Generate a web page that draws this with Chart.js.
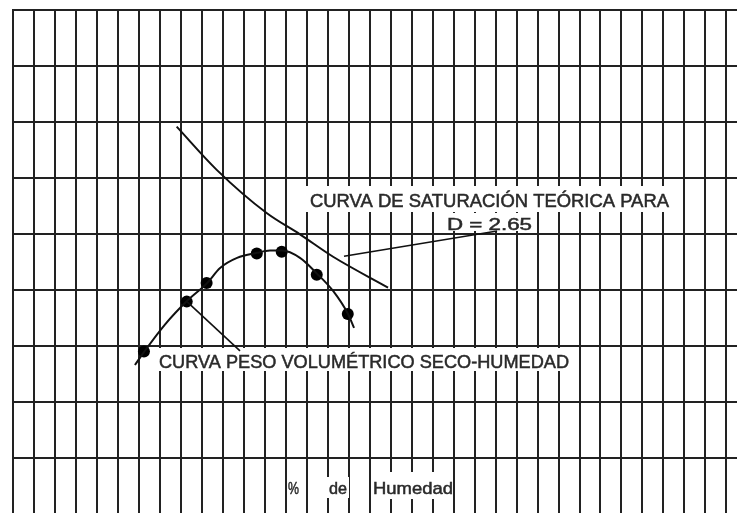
<!DOCTYPE html>
<html>
<head>
<meta charset="utf-8">
<script src="https://cdn.jsdelivr.net/npm/chart.js@4/dist/chart.umd.min.js"></script>
<style>
  html, body { margin: 0; padding: 0; background: #fff; overflow: hidden; }
  #wrap { width: 737px; height: 513px; }
  canvas { display: block; }
</style>
</head>
<body>
<div id="wrap"><canvas id="c" width="737" height="513"></canvas></div>
<script>
// ---- Data (grid units: x = % humedad, y = peso volumétrico seco) ----
const pointsX = [6.23, 8.27, 9.22, 11.61, 12.80, 14.47, 15.95];
const pointsY = [2.90, 3.79, 4.12, 4.65, 4.68, 4.27, 3.57];

const curveX = [5.80, 6.23, 7.23, 8.28, 9.24, 9.86, 10.67, 11.62, 12.24, 12.81, 13.67, 14.48, 15.25, 15.96, 16.25];
const curveY = [2.66, 2.89, 3.38, 3.80, 4.12, 4.39, 4.57, 4.66, 4.70, 4.70, 4.57, 4.29, 3.98, 3.57, 3.32];

const satX = [7.79, 9.70, 12.08, 13.67, 15.25, 17.87];
const satY = [6.91, 6.14, 5.37, 4.99, 4.59, 4.04];

const leaderSatX = [15.77, 23.07];
const leaderSatY = [4.60, 5.05];
const leaderCurveX = [8.28, 10.81];
const leaderCurveY = [3.79, 2.91];

const xMin = 0, xMax = 34.51, yMin = 0.02, yMax = 9;

const labelSat1 = 'CURVA DE SATURACIÓN TEÓRICA PARA';
const labelSat2 = 'D = 2.65';
const labelCurve = 'CURVA PESO VOLUMÉTRICO SECO-HUMEDAD';
const axisWords = ['%', 'de', 'Humedad'];

const zip = (xs, ys) => xs.map((x, i) => ({x, y: ys[i]}));

const FONT = '"Liberation Sans", Arial, sans-serif';
const TEXT_COLOR = '#2a2a2a';

function boxes(ctx) {
  ctx.save();
  ctx.fillStyle = '#fff';
  const r = [
    [305, 186, 368, 26],   // saturation line 1
    [443, 213, 93, 18],    // D = 2.65
    [155, 348, 418, 23],   // curva peso
    [287, 478, 13, 20],    // %
    [326, 477, 23, 21],    // de
    [371, 472, 82, 27]     // Humedad
  ];
  r.forEach(b => ctx.fillRect(b[0], b[1], b[2], b[3]));
  ctx.restore();
}

function drawText(ctx, text, left, right, baseline, size) {
  ctx.save();
  ctx.font = size + 'px ' + FONT;
  ctx.fillStyle = TEXT_COLOR;
  ctx.strokeStyle = TEXT_COLOR;
  ctx.lineWidth = 0.5;
  ctx.textBaseline = 'alphabetic';
  ctx.textAlign = 'left';
  const w = ctx.measureText(text).width;
  ctx.translate(left, baseline);
  ctx.scale((right - left) / w, 1);
  ctx.fillText(text, 0, 0);
  ctx.strokeText(text, 0, 0);
  ctx.restore();
}

const annotPlugin = {
  id: 'annot',
  beforeDatasetsDraw(chart) { boxes(chart.ctx); },
  afterDatasetsDraw(chart) {
    const ctx = chart.ctx;
    drawText(ctx, labelSat1, 310, 669, 206.5, 17.5);
    drawText(ctx, labelSat2, 447, 532, 230, 16.5);
    drawText(ctx, labelCurve, 159, 569, 368, 18);
    drawText(ctx, axisWords[0], 288, 299, 494, 17);
    drawText(ctx, axisWords[1], 329, 347, 494, 17);
    drawText(ctx, axisWords[2], 373, 453, 494, 17);
  }
};

const lineStyle = { showLine: true, borderColor: '#111', borderWidth: 2, pointRadius: 0, fill: false };

new Chart(document.getElementById('c'), {
  type: 'scatter',
  data: {
    datasets: [
      Object.assign({}, lineStyle, { data: zip(curveX, curveY), tension: 0.4, cubicInterpolationMode: 'monotone' }),
      Object.assign({}, lineStyle, { data: zip(satX, satY), tension: 0.4, cubicInterpolationMode: 'monotone' }),
      Object.assign({}, lineStyle, { data: zip(leaderSatX, leaderSatY), borderWidth: 1.6 }),
      Object.assign({}, lineStyle, { data: zip(leaderCurveX, leaderCurveY), borderWidth: 1.6 }),
      { data: zip(pointsX, pointsY), showLine: false, pointRadius: 6, pointBackgroundColor: '#000', pointBorderColor: '#000', pointBorderWidth: 0 }
    ]
  },
  options: {
    responsive: false,
    animation: false,
    devicePixelRatio: 1,
    layout: { autoPadding: false, padding: { left: 13.3, top: 9.5, right: 0, bottom: 0 } },
    plugins: { legend: { display: false }, tooltip: { enabled: false } },
    scales: {
      x: {
        type: 'linear', min: xMin, max: xMax,
        ticks: { display: false, stepSize: 1, includeBounds: false },
        grid: { color: '#222', lineWidth: 2, drawTicks: false },
        border: { display: false },
        afterFit(s) { s.height = 0; }
      },
      y: {
        type: 'linear', min: yMin, max: yMax,
        ticks: { display: false, stepSize: 1, includeBounds: false },
        grid: { color: '#222', lineWidth: 2, drawTicks: false },
        border: { color: '#222', width: 2 },
        afterFit(s) { s.width = 0; }
      }
    }
  },
  plugins: [annotPlugin]
});
</script>
</body>
</html>
